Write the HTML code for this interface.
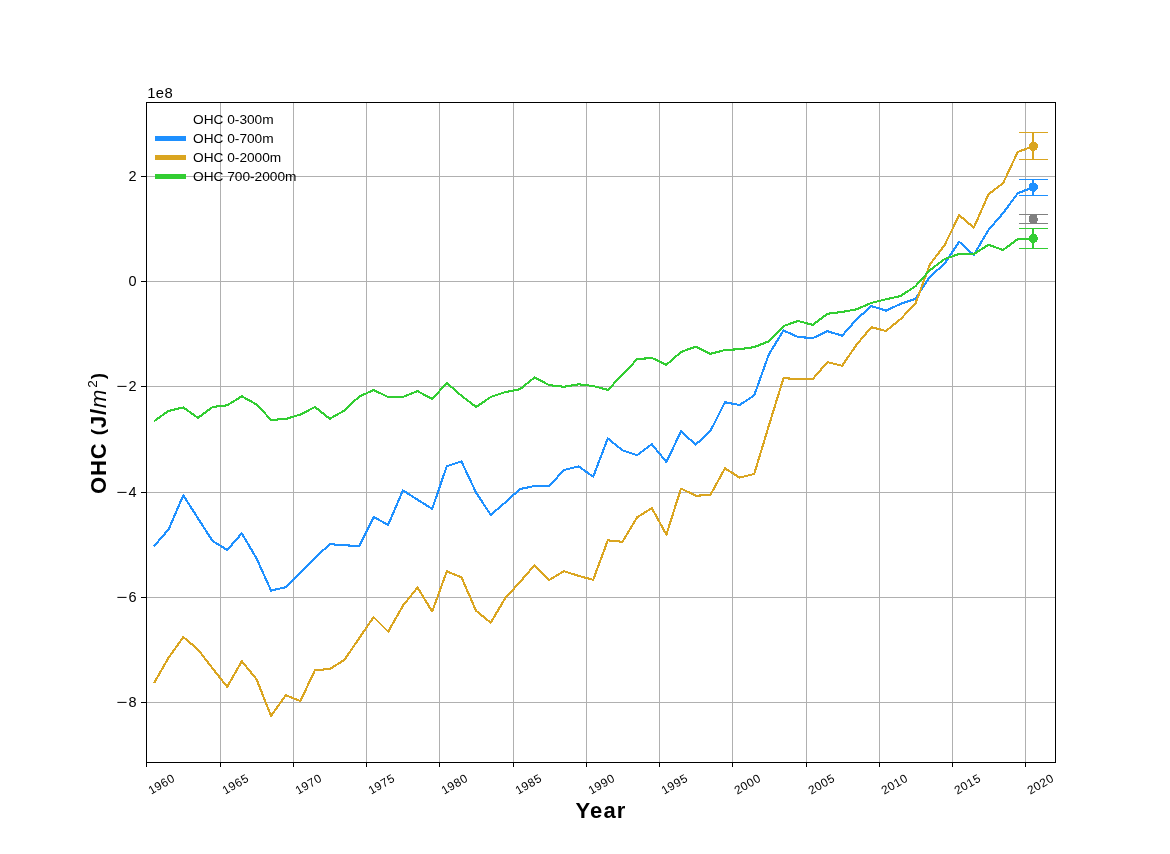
<!DOCTYPE html><html><head><meta charset="utf-8"><title>OHC</title><style>
html,body{margin:0;padding:0;background:#fff}
body{width:1170px;height:854px;position:relative;overflow:hidden;font-family:"Liberation Sans",sans-serif;color:#000}
.t{position:absolute;white-space:nowrap;line-height:1;filter:grayscale(1)}
.mn{display:inline-block;transform:scaleX(1.3);transform-origin:100% 50%;margin-right:1px}
.yt{font-size:14.5px;text-align:right;width:60px;left:77px;letter-spacing:0.4px}
.xt{font-size:11.8px;letter-spacing:0.6px;transform-origin:50% 50%;transform:translate(-50%,-50%) rotate(-30deg)}
.lg{font-size:13.7px;left:193px}
.pr{font-size:19px;position:relative;top:-2px}

</style></head><body>
<svg width="1170" height="854" viewBox="0 0 1170 854" style="position:absolute;left:0;top:0">
<rect x="0" y="0" width="1170" height="854" fill="#ffffff"/>
<g fill="#b0b0b0" shape-rendering="crispEdges">
<rect x="220" y="103" width="1" height="659"/>
<rect x="293" y="103" width="1" height="659"/>
<rect x="366" y="103" width="1" height="659"/>
<rect x="439" y="103" width="1" height="659"/>
<rect x="513" y="103" width="1" height="659"/>
<rect x="586" y="103" width="1" height="659"/>
<rect x="659" y="103" width="1" height="659"/>
<rect x="732" y="103" width="1" height="659"/>
<rect x="806" y="103" width="1" height="659"/>
<rect x="879" y="103" width="1" height="659"/>
<rect x="952" y="103" width="1" height="659"/>
<rect x="1025" y="103" width="1" height="659"/>
<rect x="147" y="176" width="908" height="1"/>
<rect x="147" y="281" width="908" height="1"/>
<rect x="147" y="386" width="908" height="1"/>
<rect x="147" y="492" width="908" height="1"/>
<rect x="147" y="597" width="908" height="1"/>
<rect x="147" y="702" width="908" height="1"/>
</g>
<g fill="none" stroke-width="2.1" stroke-linejoin="round" stroke-linecap="butt" shape-rendering="crispEdges">
<polyline stroke="#1E90FF" points="154.0,546.2 168.6,529.4 183.3,495.3 197.9,518.2 212.6,541.0 227.2,550.0 241.8,533.3 256.5,558.4 271.1,590.6 285.8,587.2 300.4,572.5 315.0,558.0 329.7,544.2 344.3,545.2 359.0,546.2 373.6,517.0 388.2,524.9 402.9,490.4 417.5,499.7 432.2,508.8 446.8,466.2 461.4,461.4 476.1,492.6 490.7,514.9 505.4,502.3 520.0,489.0 534.6,486.0 549.3,486.0 563.9,470.0 578.6,466.4 593.2,476.7 607.8,438.4 622.5,450.4 637.1,455.2 651.8,444.2 666.4,462.0 681.0,431.4 695.7,444.6 710.3,431.2 725.0,402.2 739.6,405.0 754.2,395.4 768.9,354.3 783.5,330.5 798.2,337.0 812.8,338.1 827.4,331.2 842.1,335.7 856.7,319.2 871.4,306.1 886.0,310.6 900.6,303.9 915.3,299.0 929.9,276.6 944.6,263.7 959.2,241.8 973.8,255.0 988.5,229.9 1003.1,213.1 1017.8,193.2 1033.2,187.3"/>
<polyline stroke="#DAA520" points="154.0,683.1 168.6,657.7 183.3,637.1 197.9,649.4 212.6,668.4 227.2,686.9 241.8,661.2 256.5,679.2 271.1,715.9 285.8,695.2 300.4,701.0 315.0,670.1 329.7,669.1 344.3,660.0 359.0,638.5 373.6,617.1 388.2,631.7 402.9,605.7 417.5,587.6 432.2,611.5 446.8,571.3 461.4,577.3 476.1,610.8 490.7,622.7 505.4,597.9 520.0,582.0 534.6,565.1 549.3,580.0 563.9,571.2 578.6,575.9 593.2,579.8 607.8,540.3 622.5,541.8 637.1,517.3 651.8,508.1 666.4,534.6 681.0,488.5 695.7,495.7 710.3,495.0 725.0,468.3 739.6,477.6 754.2,474.0 768.9,425.5 783.5,378.2 798.2,379.0 812.8,379.0 827.4,362.1 842.1,365.8 856.7,344.5 871.4,327.2 886.0,331.0 900.6,319.0 915.3,304.0 929.9,264.4 944.6,245.1 959.2,215.2 973.8,227.7 988.5,194.3 1003.1,183.1 1017.8,151.9 1033.2,146.2"/>
<polyline stroke="#32CD32" points="154.0,421.2 168.6,410.9 183.3,407.4 197.9,417.9 212.6,407.0 227.2,405.3 241.8,396.3 256.5,404.4 271.1,419.9 285.8,419.0 300.4,414.5 315.0,407.0 329.7,418.8 344.3,410.6 359.0,396.7 373.6,390.0 388.2,397.0 402.9,397.0 417.5,391.1 432.2,399.0 446.8,383.0 461.4,395.7 476.1,407.0 490.7,397.0 505.4,392.1 520.0,389.2 534.6,377.4 549.3,385.2 563.9,386.8 578.6,384.3 593.2,386.0 607.8,389.9 622.5,374.7 637.1,359.2 651.8,357.9 666.4,364.8 681.0,352.0 695.7,346.6 710.3,353.8 725.0,350.0 739.6,349.2 754.2,347.1 768.9,341.3 783.5,326.0 798.2,321.0 812.8,324.8 827.4,313.8 842.1,311.9 856.7,309.3 871.4,302.9 886.0,299.3 900.6,296.0 915.3,286.3 929.9,270.2 944.6,259.0 959.2,254.0 973.8,254.0 988.5,244.8 1003.1,250.0 1017.8,239.0 1033.2,239.0"/>
</g>
<g fill="#808080" shape-rendering="crispEdges"><rect x="1019" y="214" width="29" height="1"/><rect x="1019" y="223" width="29" height="1"/><rect x="1030" y="215" width="7" height="8"/><rect x="1029" y="216" width="1" height="6"/><rect x="1037" y="218" width="1" height="3"/></g>
<g fill="#1E90FF" shape-rendering="crispEdges"><rect x="1019" y="179" width="29" height="1"/><rect x="1019" y="195" width="29" height="1"/><rect x="1032" y="179" width="2" height="17"/></g><circle cx="1033.2" cy="187.1" r="4.7" fill="#1E90FF" shape-rendering="crispEdges"/>
<g fill="#DAA520" shape-rendering="crispEdges"><rect x="1019" y="132" width="29" height="1"/><rect x="1019" y="159" width="29" height="1"/><rect x="1032" y="132" width="2" height="28"/></g><circle cx="1033.2" cy="146.3" r="4.7" fill="#DAA520" shape-rendering="crispEdges"/>
<g fill="#32CD32" shape-rendering="crispEdges"><rect x="1019" y="228" width="29" height="1"/><rect x="1019" y="248" width="29" height="1"/><rect x="1032" y="228" width="2" height="21"/></g><circle cx="1033.2" cy="238.5" r="4.7" fill="#32CD32" shape-rendering="crispEdges"/>
<g shape-rendering="crispEdges">
<rect x="155" y="136" width="31" height="5" fill="#1E90FF"/>
<rect x="155" y="155" width="31" height="5" fill="#DAA520"/>
<rect x="155" y="174" width="31" height="5" fill="#32CD32"/>
</g>
<g fill="#000" shape-rendering="crispEdges">
<rect x="146" y="102" width="910" height="1"/><rect x="146" y="762" width="910" height="1"/>
<rect x="146" y="102" width="1" height="661"/><rect x="1055" y="102" width="1" height="661"/>
<rect x="146" y="763" width="1" height="4"/>
<rect x="220" y="763" width="1" height="4"/>
<rect x="293" y="763" width="1" height="4"/>
<rect x="366" y="763" width="1" height="4"/>
<rect x="439" y="763" width="1" height="4"/>
<rect x="513" y="763" width="1" height="4"/>
<rect x="586" y="763" width="1" height="4"/>
<rect x="659" y="763" width="1" height="4"/>
<rect x="732" y="763" width="1" height="4"/>
<rect x="806" y="763" width="1" height="4"/>
<rect x="879" y="763" width="1" height="4"/>
<rect x="952" y="763" width="1" height="4"/>
<rect x="1025" y="763" width="1" height="4"/>
<rect x="141" y="176" width="5" height="1"/>
<rect x="141" y="281" width="5" height="1"/>
<rect x="141" y="386" width="5" height="1"/>
<rect x="141" y="492" width="5" height="1"/>
<rect x="141" y="597" width="5" height="1"/>
<rect x="141" y="702" width="5" height="1"/>
</g>
</svg>
<div class="t" style="left:147.2px;top:85.8px;font-size:14.8px;letter-spacing:0.4px">1e8</div>
<div class="t yt" style="top:169px">2</div>
<div class="t yt" style="top:274px">0</div>
<div class="t yt" style="top:379px"><span class="mn">−</span>2</div>
<div class="t yt" style="top:485px"><span class="mn">−</span>4</div>
<div class="t yt" style="top:590px"><span class="mn">−</span>6</div>
<div class="t yt" style="top:695px"><span class="mn">−</span>8</div>
<div class="t xt" style="left:162.0px;top:784.7px">1960</div>
<div class="t xt" style="left:236.0px;top:784.7px">1965</div>
<div class="t xt" style="left:309.0px;top:784.7px">1970</div>
<div class="t xt" style="left:382.0px;top:784.7px">1975</div>
<div class="t xt" style="left:455.0px;top:784.7px">1980</div>
<div class="t xt" style="left:529.0px;top:784.7px">1985</div>
<div class="t xt" style="left:602.0px;top:784.7px">1990</div>
<div class="t xt" style="left:675.0px;top:784.7px">1995</div>
<div class="t xt" style="left:748.0px;top:784.7px">2000</div>
<div class="t xt" style="left:822.0px;top:784.7px">2005</div>
<div class="t xt" style="left:895.0px;top:784.7px">2010</div>
<div class="t xt" style="left:968.0px;top:784.7px">2015</div>
<div class="t xt" style="left:1041.0px;top:784.7px">2020</div>
<div class="t lg" style="top:112.7px">OHC 0-300m</div>
<div class="t lg" style="top:131.7px">OHC 0-700m</div>
<div class="t lg" style="top:150.7px">OHC 0-2000m</div>
<div class="t lg" style="top:169.7px">OHC 700-2000m</div>
<div class="t" style="left:601px;top:810.5px;font-size:22px;font-weight:bold;letter-spacing:1.1px;transform:translate(-50%,-50%)">Year</div>
<div class="t" style="left:99.0px;top:433px;font-size:22px;font-weight:bold;letter-spacing:0.9px;transform:translate(-50%,-50%) rotate(-90deg)">OHC <span class="pr">(</span>J/<i style="font-weight:normal">m</i><sup style="font-size:13.5px;font-weight:normal;line-height:0;vertical-align:9px;margin-left:1px">2</sup><span class="pr">)</span></div>
</body></html>
